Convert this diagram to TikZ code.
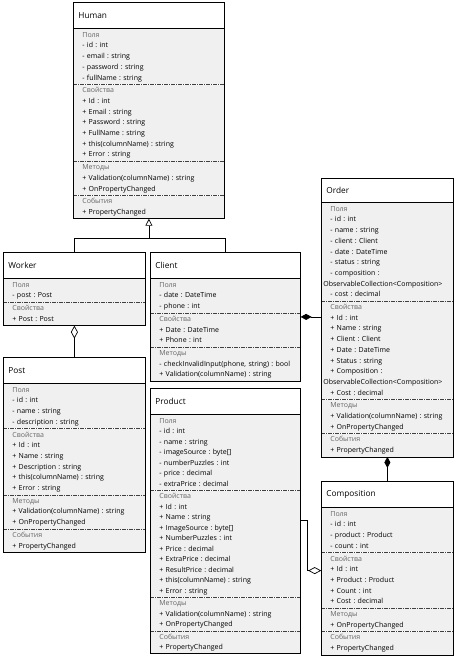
\documentclass[tikz,border=0pt]{standalone}
\usepackage{fontspec}
\setmainfont{Open Sans}
\usetikzlibrary{arrows.meta,positioning}
\newcommand{\grp}[1]{\textcolor{black!60}{#1}}
\frenchspacing

\begin{document}
\begin{tikzpicture}[
  x=1pt, y=1pt, node distance=0pt,
  hdr/.style={draw, line width=0.8pt, fill=white, anchor=north west, minimum height=26pt,
              inner xsep=5pt, text width=#1, align=left, font=\fontsize{8.3}{10}\selectfont},
  part/.style={fill=black!6, inner xsep=9pt, inner ysep=0.8pt, text width=#1, align=left,
               font=\fontsize{7}{10.7}\selectfont, execute at begin node=\strut,
               execute at end node=\strut},
  tight/.style={font=\fontsize{7}{10.5}\selectfont},
  divider/.style={draw=black!75, line width=0.6pt, dash pattern=on 4pt off 1pt on 1pt off 1pt},
  classframe/.style={draw, line width=0.8pt},
  link/.style={draw, line width=0.7pt},
  inherit/.style={link, -{Triangle[open, length=7pt, width=7pt]}},
  agg/.style={link, {Diamond[open, length=13pt, width=7pt]}-},
  aggend/.style={link, -{Diamond[open, length=13pt, width=7pt]}},
  compo/.style={link, {Diamond[length=11pt, width=6pt]}-}
]
\useasboundingbox (0,0) rectangle (457,-657);

% Human
\node[hdr=141pt] (human) at (73,-2) {Human};
\node[part=133pt, below=of human] (human-f) {\grp{Поля}\\- id : int\\- email : string\\- password : string\\- fullName : string};
\node[part=133pt, below=of human-f] (human-p) {\grp{Свойства}\\+ Id : int\\+ Email : string\\+ Password : string\\+ FullName : string\\+ this(columnName) : string\\+ Error : string};
\node[part=133pt, below=of human-p] (human-m) {\grp{Методы}\\+ Validation(columnName) : string\\+ OnPropertyChanged};
\node[part=133pt, below=of human-m] (human-e) {\grp{События}\\+ PropertyChanged};

% Worker
\node[hdr=132pt] (worker) at (3,-252) {Worker};
\node[part=124pt, below=of worker] (worker-f) {\grp{Поля}\\- post : Post};
\node[part=124pt, below=of worker-f] (worker-p) {\grp{Свойства}\\+ Post : Post};

% Client
\node[hdr=140pt] (client) at (150,-252) {Client};
\node[part=132pt, below=of client] (client-f) {\grp{Поля}\\- date : DateTime\\- phone : int};
\node[part=132pt, below=of client-f] (client-p) {\grp{Свойства}\\+ Date : DateTime\\+ Phone : int};
\node[part=132pt, below=of client-p] (client-m) {\grp{Методы}\\\mbox{- checkInvalidInput(phone, string) : bool}\\+ Validation(columnName) : string};

% Post
\node[hdr=132pt] (post) at (3,-357) {Post};
\node[part=124pt, below=of post] (post-f) {\grp{Поля}\\- id : int\\- name : string\\- description : string};
\node[part=124pt, below=of post-f] (post-p) {\grp{Свойства}\\+ Id : int\\+ Name : string\\+ Description : string\\+ this(columnName) : string\\+ Error : string};
\node[part=124pt, below=of post-p] (post-m) {\grp{Методы}\\+ Validation(columnName) : string\\+ OnPropertyChanged};
\node[part=124pt, below=of post-m] (post-e) {\grp{События}\\+ PropertyChanged};

% Product
\node[hdr=140pt] (product) at (150,-388) {Product};
\node[part=132pt, tight, below=of product] (product-f) {\grp{Поля}\\- id : int\\- name : string\\- imageSource : byte[]\\- numberPuzzles : int\\- price : decimal\\- extraPrice : decimal};
\node[part=132pt, tight, below=of product-f] (product-p) {\grp{Свойства}\\+ Id : int\\+ Name : string\\+ ImageSource : byte[]\\+ NumberPuzzles : int\\+ Price : decimal\\+ ExtraPrice : decimal\\+ ResultPrice : decimal\\+ this(columnName) : string\\+ Error : string};
\node[part=132pt, tight, below=of product-p] (product-m) {\grp{Методы}\\+ Validation(columnName) : string\\+ OnPropertyChanged};
\node[part=132pt, tight, below=of product-m] (product-e) {\grp{События}\\+ PropertyChanged};

% Order
\node[hdr=122pt, minimum height=24pt] (order) at (321,-178) {Order};
\node[part=114pt, below=of order] (order-f) {\grp{Поля}\\- id : int\\- name : string\\- client : Client\\- date : DateTime\\- status : string\\- composition :\\\hspace*{-7pt}\mbox{ObservableCollection<Composition>}\\- cost : decimal};
\node[part=114pt, below=of order-f] (order-p) {\grp{Свойства}\\+ Id : int\\+ Name : string\\+ Client : Client\\+ Date : DateTime\\+ Status : string\\+ Composition :\\\hspace*{-7pt}\mbox{ObservableCollection<Composition>}\\+ Cost : decimal};
\node[part=114pt, below=of order-p] (order-m) {\grp{Методы}\\\mbox{+ Validation(columnName) : string}\\+ OnPropertyChanged};
\node[part=114pt, below=of order-m] (order-e) {\grp{События}\\+ PropertyChanged};

% Composition
\node[hdr=122pt] (compos) at (321,-481) {Composition};
\node[part=114pt, below=of compos] (compos-f) {\grp{Поля}\\- id : int\\- product : Product\\- count : int};
\node[part=114pt, below=of compos-f] (compos-p) {\grp{Свойства}\\+ Id : int\\+ Product : Product\\+ Count : int\\+ Cost : decimal};
\node[part=114pt, below=of compos-p] (compos-m) {\grp{Методы}\\+ OnPropertyChanged};
\node[part=114pt, below=of compos-m] (compos-e) {\grp{События}\\+ PropertyChanged};

\foreach \s in {human-f,human-p,human-m,worker-f,client-f,client-p,post-f,post-p,post-m,
                product-f,product-p,product-m,order-f,order-p,order-m,compos-f,compos-p,compos-m}
  \draw[divider] (\s.south west) -- (\s.south east);
\foreach \c/\l in {human/human-e,worker/worker-p,client/client-m,post/post-e,
                   product/product-e,order/order-e,compos/compos-e}
  \draw[classframe] (\c.north west) rectangle (\l.south east);

% links
\coordinate (join) at ([yshift=-20pt]human-e.south);
\draw[inherit] (join) -- (human-e.south);
\draw[link] (worker.north) |- (join) -| (client.north);
\draw[agg] (worker-p.south) -- (post.north);
\coordinate (co) at ([yshift=-4pt]client-f.south east);
\draw[compo] (co) -- (co -| order-p.west);
\draw[compo] (order-e.south) -- (compos.north);
\coordinate (pe) at ([yshift=-30pt]product-p.north east);
\coordinate (ce) at ([yshift=-18pt]compos-p.north west);
\draw[aggend] (pe) -- ++(7,0) |- (ce);
\end{tikzpicture}
\end{document}
